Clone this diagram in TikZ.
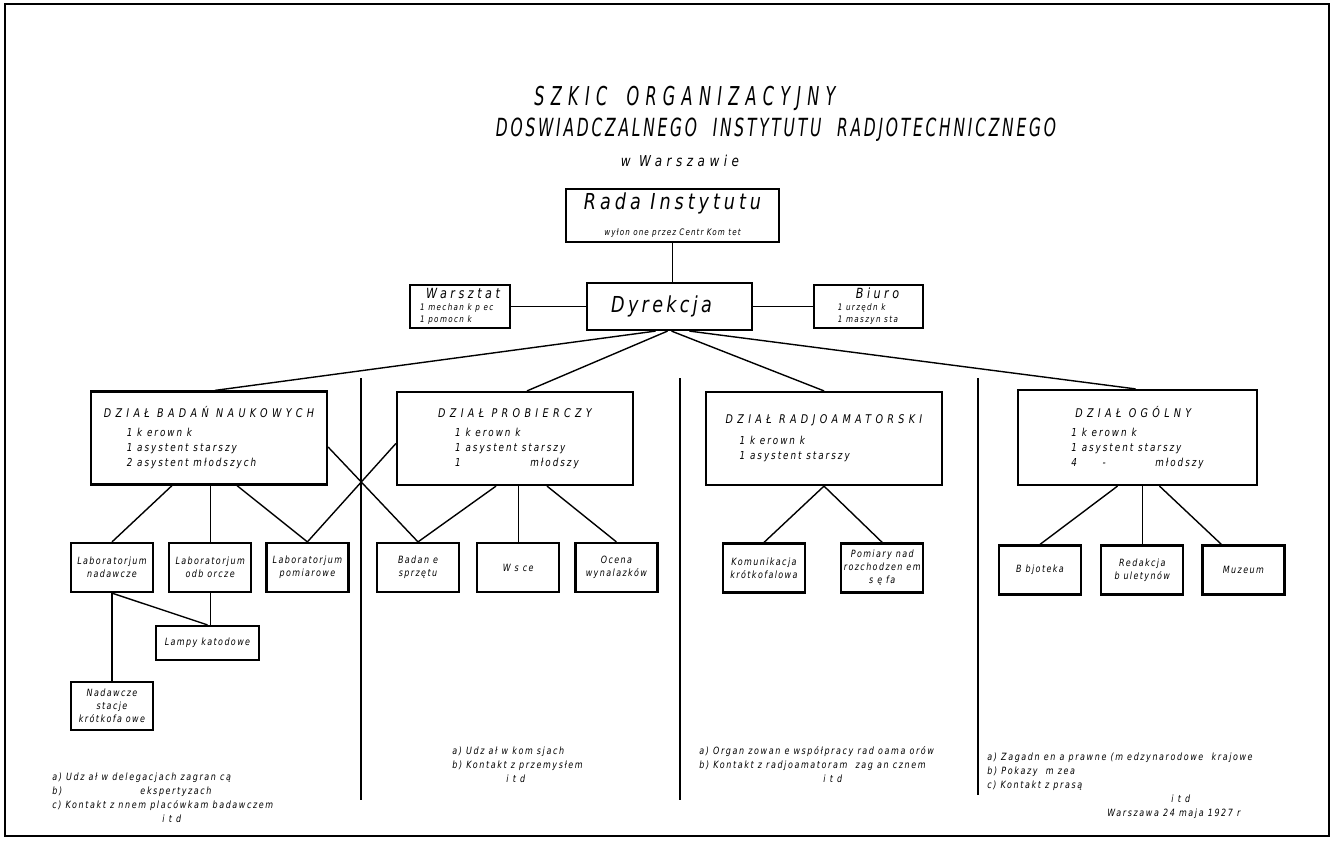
\documentclass[tikz,border=0pt]{standalone}
\usepackage{fontspec}
\setmainfont{DejaVu Sans}[FakeStretch=0.8]
\newfontfamily\titleFont{DejaVu Sans}[FakeStretch=0.62]
\usetikzlibrary{positioning}

\newcommand\deptHead[1]{{\fontsize{6}{9}\selectfont\addfontfeature{LetterSpace=36}#1}}

\begin{document}
\begin{tikzpicture}[
   x=0.5pt, y=-0.5pt,
   every node/.style    = {font=\itshape, inner sep=1pt},
   boxNode/.style       = {rectangle, draw, line width=1.1pt, align=center},
   mainNode/.style      = {boxNode, font=\itshape\fontsize{11}{13}\selectfont\addfontfeature{LetterSpace=15}},
   sideNode/.style      = {boxNode, minimum height=21.5pt, align=left, font=\itshape\fontsize{4.5}{6}\selectfont\addfontfeature{LetterSpace=15}},
   deptNode/.style      = {boxNode, minimum width=118pt, minimum height=46.5pt, align=left, font=\itshape\fontsize{5.5}{7.5}\selectfont\addfontfeature{LetterSpace=18}},
   unitNode/.style      = {boxNode, minimum width=41pt, minimum height=24.5pt, font=\itshape\fontsize{5}{6.5}\selectfont\addfontfeature{LetterSpace=14}},
   noteNode/.style      = {align=left, anchor=north west, font=\itshape\fontsize{5}{7}\selectfont\addfontfeature{LetterSpace=16}},
   titleNode/.style     = {font=\titleFont\itshape\fontsize{13}{15}\selectfont\addfontfeature{LetterSpace=24}},
   link/.style          = {line width=0.7pt},
   divider/.style       = {line width=0.8pt}
]
    \useasboundingbox (0,0) rectangle (1332,840);
    \draw[line width=1.2pt] (5,4) rectangle (1329,836);

    % title
    \node[titleNode] (title1) at (685,98) {SZKIC\hspace{4pt} ORGANIZACYJNY};
    \node[titleNode, font=\titleFont\itshape\fontsize{12.5}{15}\selectfont\addfontfeature{LetterSpace=11}] (title2) at (776,130)
        {DOSWIADCZALNEGO\hspace{4pt} INSTYTUTU\hspace{4pt} RADJOTECHNICZNEGO};
    \node[font=\itshape\fontsize{7.5}{9}\selectfont\addfontfeature{LetterSpace=30}] (title3) at (680,161) {w Warszawie};

    % top of the scheme
    \node[boxNode, minimum width=106.5pt, minimum height=26.5pt] (rada) at (672.5,215.5)
        {{\fontsize{11}{13}\selectfont\addfontfeature{LetterSpace=18}Rada Instytutu}\\[1pt]
         {\fontsize{4.5}{6}\selectfont\addfontfeature{LetterSpace=12}wyłon one przez Centr Kom tet}};
    \node[mainNode, minimum width=82.5pt, minimum height=23.5pt] (dyr) at (669.5,306.5) {Dyrekcja\hspace*{8pt}};
    \node[sideNode, minimum width=50pt] (warsztat) at (460,306.5)
        {\hspace*{3pt}{\fontsize{7}{8}\selectfont\addfontfeature{LetterSpace=25}Warsztat}\\1 mechan k p ec\\1 pomocn k};
    \node[sideNode, minimum width=54.5pt] (biuro) at (868.5,306.5)
        {\hspace*{9pt}{\fontsize{7}{8}\selectfont\addfontfeature{LetterSpace=25}Biuro}\\1 urzędn k\\1 maszyn sta};

    \draw[link] (rada.south) -- (rada.south |- dyr.north);
    \draw[link] (warsztat) -- (dyr);
    \draw[link] (dyr) -- (biuro);

    % departments
    \node[deptNode] (badan) at (209,438)
        {\deptHead{DZIAŁ BADAŃ NAUKOWYCH}\\[2pt]
         \hspace*{11.5pt}1 k erown k\\\hspace*{11.5pt}1 asystent starszy\\\hspace*{11.5pt}2 asystent młodszych};
    \node[deptNode] (prob) at (515,438.5)
        {\deptHead{DZIAŁ PROBIERCZY}\\[2pt]
         \hspace*{8.5pt}1 k erown k\\\hspace*{8.5pt}1 asystent starszy\\\hspace*{8.5pt}1 \hspace{30pt} młodszy};
    \node[deptNode] (radjo) at (824,438.5)
        {\deptHead{DZIAŁ RADJOAMATORSKI}\\[3pt]
         \hspace*{7pt}1 k erown k\\\hspace*{7pt}1 asystent starszy};
    \node[deptNode, minimum width=119.5pt, minimum height=47.5pt] (ogol) at (1137.5,437.5)
        {\hspace*{2pt}\deptHead{DZIAŁ OGÓLNY}\\[2pt]
         1 k erown k\\1 asystent starszy\\4 \hspace{8pt} - \hspace{20pt} młodszy};

    \draw[link] ([xshift=-7pt]dyr.south) -- ([xshift=3pt]badan.north);
    \draw[link] ([xshift=-1pt]dyr.south) -- ([xshift=6pt]prob.north);
    \draw[link] ([xshift=1pt]dyr.south) -- (radjo.north);
    \draw[link] ([xshift=10pt]dyr.south) -- ([xshift=-1pt]ogol.north);

    \draw[divider] (361,378) -- (361,800);
    \draw[divider] (680,378) -- (680,800);
    \draw[divider] (978,378) -- (978,795);

    % units of the research department
    \node[unitNode] (labNad) at (112,567.5) {Laboratorjum\\nadawcze};
    \node[unitNode, right=7pt of labNad] (labOdb) {Laboratorjum\\odb orcze};
    \node[unitNode, right=6.5pt of labOdb] (labPom) {Laboratorjum\\pomiarowe};
    \node[unitNode, minimum width=51.5pt, minimum height=17pt] (lampy) at (207.5,643) {Lampy katodowe};
    \node[unitNode, minimum height=24pt] (nadStac) at (112,706) {Nadawcze\\stacje\\krótkofa owe};

    \draw[link] ([xshift=-18.5pt]badan.south) -- (labNad.north);
    \draw[link] (labOdb.north |- badan.south) -- (labOdb.north);
    \draw[link] ([xshift=14pt]badan.south) -- (labPom.north);
    \draw[link] ([yshift=-2.5pt]prob.west) -- (labPom.north);
    \draw[link] (labNad.south) -- (lampy.north);
    \draw[link] (labOdb.south) -- (labOdb.south |- lampy.north);
    \draw[link] (labNad.south) -- (labNad.south |- nadStac.north);

    % units of the testing department
    \node[unitNode] (badSprz) at (418,567.5) {Badan e\\sprzętu};
    \node[unitNode, right=8pt of badSprz] (wsce) {W s ce};
    \node[unitNode, right=7pt of wsce] (ocena) {Ocena\\wynalazków};

    \draw[link] ([yshift=-4.5pt]badan.east) -- (badSprz.north);
    \draw[link] ([xshift=-9.5pt]prob.south) -- (badSprz.north);
    \draw[link] (wsce.north |- prob.south) -- (wsce.north);
    \draw[link] ([xshift=16pt]prob.south) -- (ocena.north);

    % units of the amateur department
    \node[unitNode] (komun) at (764,568) {Komunikacja\\krótkofalowa};
    \node[unitNode, right=17pt of komun] (pomiary) {Pomiary nad\\rozchodzen em\\s ę fa};

    \draw[link] (radjo.south) -- (komun.north);
    \draw[link] (radjo.south) -- (pomiary.north);

    % units of the general department
    \node[unitNode] (bibl) at (1040,570) {B bjoteka};
    \node[unitNode, right=9pt of bibl] (redak) {Redakcja\\b uletynów};
    \node[unitNode, right=8.5pt of redak] (muz) {Muzeum};

    \draw[link] ([xshift=-10pt]ogol.south) -- (bibl.north);
    \draw[link] (redak.north |- ogol.south) -- (redak.north);
    \draw[link] ([xshift=11pt]ogol.south) -- ([xshift=-11pt]muz.north);

    % notes
    \node[noteNode] (noteA) at (50,770)
        {a) Udz ał w delegacjach zagran cą\\
         b) \hspace{35pt} ekspertyzach\\
         c) Kontakt z nnem placówkam badawczem\\
         \hspace*{55pt}i t d};
    \node[noteNode] (noteB) at (450,744)
        {a) Udz ał w kom sjach\\
         b) Kontakt z przemysłem\\
         \hspace*{27pt}i t d};
    \node[noteNode] (noteC) at (697,744)
        {a) Organ zowan e współpracy rad oama orów\\
         b) Kontakt z radjoamatoram \ zag an cznem\\
         \hspace*{62pt}i t d};
    \node[noteNode] (noteD) at (985,750)
        {a) Zagadn en a prawne (m edzynarodowe \ krajowe\\
         b) Pokazy \ m zea\\
         c) Kontakt z prasą\\
         \hspace*{92pt}i t d\\
         \hspace*{60pt}Warszawa 24 maja 1927 r};
\end{tikzpicture}
\end{document}
